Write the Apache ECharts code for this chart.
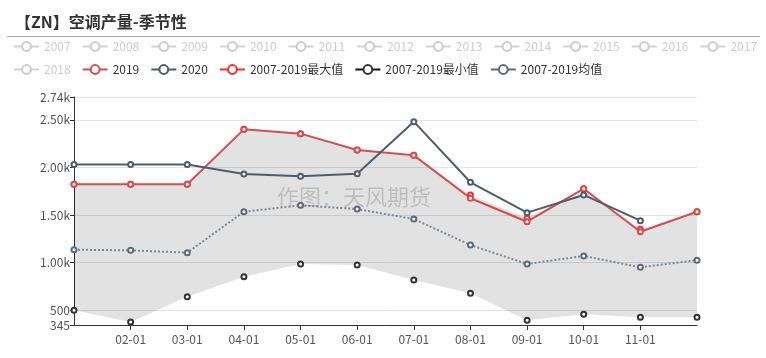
<!DOCTYPE html>
<html>
<head>
<meta charset="utf-8">
<script src="https://cdn.jsdelivr.net/npm/echarts@6/dist/echarts.min.js"></script>
<style>
html,body{margin:0;padding:0;background:#fff;}
#c{width:766px;height:358px;}
</style>
</head>
<body>
<div id="c"></div>
<script>
const categories = ['01-01','02-01','03-01','04-01','05-01','06-01','07-01','08-01','09-01','10-01','11-01','12-01'];
const hiddenYears = ['2007','2008','2009','2010','2011','2012','2013','2014','2015','2016','2017','2018'];
const s2019 = [1823,1823,1823,2400,2355,2183,2127,1676,1430,1777,1325,1535];
const s2020 = [2030,2030,2030,1931,1907,1934,2481,1844,1525,1711,1441,null];
const maxV  = [1823,1823,1823,2400,2355,2183,2127,1711,1466,1777,1350,1535];
const minV  = [500,377,643,853,986,975,818,678,394,457,426,426];
const meanV = [1136,1129,1105,1535,1602,1563,1458,1185,986,1070,951,1025];
const yMin = 345, yMax = 2740;

const FONT = '"Noto Sans CJK SC", "Noto Sans", sans-serif';
const chart = echarts.init(document.getElementById('c'));

const bandDiff = maxV.map((v, i) => v - minV[i]);
const selected = {};
hiddenYears.forEach(y => selected[y] = false);
const legendData = hiddenYears.map(y => ({ name: y }));
legendData.push(
  { name: '2019' },
  { name: '2020' },
  { name: '2007-2019最大值', lineStyle: { opacity: 1, color: '#ff2b2b', width: 2 } },
  { name: '2007-2019最小值', lineStyle: { opacity: 1, color: '#111', width: 2 } },
  { name: '2007-2019均值', lineStyle: { type: 'solid', color: '#5b6b7b', width: 2 } }
);

const series = [
  { name: 'bandBase', type: 'line', stack: 'band', data: minV, symbol: 'none', silent: true,
    lineStyle: { opacity: 0 }, z: 1 },
  { name: 'band', type: 'line', stack: 'band', data: bandDiff, symbol: 'none', silent: true,
    lineStyle: { opacity: 0 }, areaStyle: { color: 'rgba(0,0,0,0.115)', opacity: 1 }, z: 1 }
];
hiddenYears.forEach(y => series.push({ name: y, type: 'line', data: [], symbol: 'emptyCircle', color: '#999' }));
series.push(
  { name: '2007-2019最小值', type: 'line', data: minV, symbol: 'emptyCircle', symbolSize: 5,
    color: '#333', lineStyle: { opacity: 0, width: 2 }, itemStyle: { borderWidth: 1.5 }, z: 3 },
  { name: '2007-2019均值', type: 'line', data: meanV, symbol: 'emptyCircle', symbolSize: 5,
    color: '#5b6b7b', lineStyle: { type: 'dotted', width: 2, color: '#7b8895' }, itemStyle: { borderWidth: 1.5 }, z: 3 },
  { name: '2007-2019最大值', type: 'line', data: maxV, symbol: 'emptyCircle', symbolSize: 5,
    color: '#ff2b2b', lineStyle: { opacity: 0, width: 2 }, itemStyle: { borderWidth: 1.5 }, z: 4 },
  { name: '2019', type: 'line', data: s2019, symbol: 'emptyCircle', symbolSize: 5,
    color: '#d24f4f', lineStyle: { width: 2 }, itemStyle: { borderWidth: 1.5 }, z: 4 },
  { name: '2020', type: 'line', data: s2020, symbol: 'emptyCircle', symbolSize: 5,
    color: '#4d5d6c', lineStyle: { width: 2 }, itemStyle: { borderWidth: 1.5 }, z: 5 }
);

const option = {
  animation: false,
  textStyle: { fontFamily: FONT },
  title: {
    text: '【ZN】空调产量-季节性', left: 10, top: 9,
    textStyle: { fontSize: 16, fontWeight: 'bold', color: '#333', fontFamily: FONT }
  },
  legend: {
    data: legendData, selected: selected,
    left: 8, top: 35.5, right: 0,
    itemWidth: 25, itemHeight: 11, itemGap: 11,
    inactiveColor: '#ccc',
    textStyle: { fontSize: 12, color: '#333', fontFamily: FONT }
  },
  grid: { left: 74, right: 69, top: 97, bottom: 33, containLabel: false },
  xAxis: {
    type: 'category', data: categories, boundaryGap: false,
    axisLine: { lineStyle: { color: '#333', width: 1 } },
    axisTick: { show: true, interval: (i) => i > 0 && i < categories.length - 1, lineStyle: { color: '#333' } },
    axisLabel: { interval: (i) => i > 0 && i < categories.length - 1, color: '#555', fontSize: 12, margin: 8, fontFamily: FONT },
    splitLine: { show: false }
  },
  yAxis: {
    type: 'value', min: yMin, max: yMax, splitNumber: 5,
    axisLine: { show: true, lineStyle: { color: '#333', width: 1 } },
    axisTick: { show: true, length: 4, lineStyle: { color: '#333' } },
    axisLabel: {
      color: '#555', fontSize: 12, margin: 4, fontFamily: FONT,
      formatter: (v) => v >= 1000 ? (v / 1000).toFixed(2) + 'k' : String(v)
    },
    splitLine: { show: true, lineStyle: { color: '#e3e3e3', width: 1 } }
  },
  graphic: [
    { type: 'line', shape: { x1: 7, y1: 36.5, x2: 760, y2: 36.5 }, style: { stroke: '#aaa', lineWidth: 1 }, silent: true },
    { type: 'text', left: 277, top: 186, z: 100, silent: true,
      style: { text: '作图：天风期货', fontSize: 22, fill: 'rgba(120,120,120,0.35)', fontFamily: FONT } }
  ],
  series: series
};
chart.setOption(option);
</script>
</body>
</html>
